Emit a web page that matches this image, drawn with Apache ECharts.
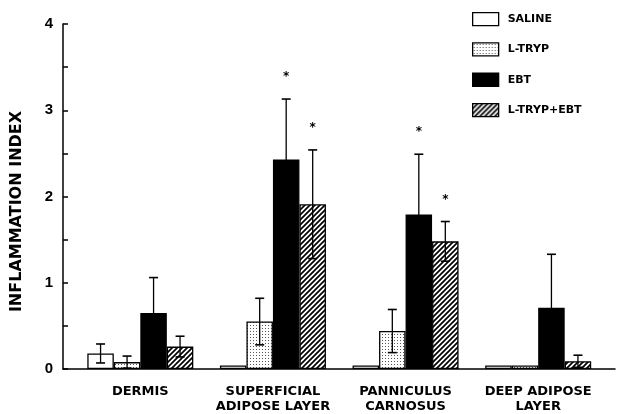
<!DOCTYPE html>
<html><head><meta charset="utf-8">
<script src="https://cdn.jsdelivr.net/npm/echarts@6/dist/echarts.min.js"></script>
<style>html,body{margin:0;padding:0;background:#fff}#c{width:617px;height:414px}</style>
</head><body><div id="c"></div>
<script>
const categories = ['DERMIS', 'SUPERFICIAL\nADIPOSE LAYER', 'PANNICULUS\nCARNOSUS', 'DEEP ADIPOSE\nLAYER'];
const seriesNames = ['SALINE', 'L-TRYP', 'EBT', 'L-TRYP+EBT'];
const saline = [0.18, 0.04, 0.04, 0.04];
const salineErr = [0.11, 0, 0, 0];
const ltryp = [0.08, 0.55, 0.44, 0.04];
const ltrypErr = [0.07, 0.27, 0.25, 0];
const ebt = [0.65, 2.43, 1.79, 0.71];
const ebtErr = [0.41, 0.70, 0.70, 0.62];
const combo = [0.26, 1.91, 1.48, 0.09];
const comboErr = [0.12, 0.63, 0.23, 0.07];
const salineStar = [0, 0, 0, 0];
const ltrypStar = [0, 0, 0, 0];
const ebtStar = [0, 1, 1, 0];
const comboStar = [0, 1, 1, 0];
const yTicks = [0, 1, 2, 3, 4];

const BAR_W = 26.5;

function makeDots() {
  const c = document.createElement('canvas'); c.width = 3; c.height = 3;
  const g = c.getContext('2d');
  g.fillStyle = '#fff'; g.fillRect(0, 0, 3, 3);
  g.fillStyle = '#555'; g.fillRect(1, 1, 1, 1);
  return c;
}
function makeHatch() {
  const s = 5;
  const c = document.createElement('canvas'); c.width = s; c.height = s;
  const g = c.getContext('2d');
  g.fillStyle = '#fff'; g.fillRect(0, 0, s, s);
  g.strokeStyle = '#000'; g.lineWidth = 1.7;
  g.beginPath();
  for (let k = -1; k <= 1; k++) {
    g.moveTo(-1, s * (k + 1) + 1);
    g.lineTo(s + 1, s * k - 1);
  }
  g.stroke();
  return c;
}

const fills = ['#fff', { image: makeDots(), repeat: 'repeat' }, '#000', { image: makeHatch(), repeat: 'repeat' }];
const values = [saline, ltryp, ebt, combo];
const errs = [salineErr, ltrypErr, ebtErr, comboErr];
const stars = [salineStar, ltrypStar, ebtStar, comboStar];

function errRender(k) {
  return function (params, api) {
    const ci = api.value(0), v = api.value(1), e = api.value(2), st = api.value(3);
    const c = api.coord([ci, v]);
    const x = c[0] + (k - 1.5) * BAR_W;
    const yt = api.coord([ci, v + e])[1];
    const yb = api.coord([ci, Math.max(v - e, 0)])[1];
    const cap = 4.5;
    const ch = [];
    if (e > 0) {
      ch.push({ type: 'line', shape: { x1: x, y1: yt, x2: x, y2: yb }, style: { stroke: '#000', lineWidth: 1.3 } });
      ch.push({ type: 'line', shape: { x1: x - cap, y1: yt, x2: x + cap, y2: yt }, style: { stroke: '#000', lineWidth: 1.6 } });
      ch.push({ type: 'line', shape: { x1: x - cap, y1: yb, x2: x + cap, y2: yb }, style: { stroke: '#000', lineWidth: 1.6 } });
    }
    if (st) {
      ch.push({ type: 'text', x: x, y: yt - 22, style: { text: '*', fontFamily: 'DejaVu Sans', fontWeight: 'bold', fontSize: 12, fill: '#000', align: 'center', verticalAlign: 'middle' } });
    }
    return { type: 'group', children: ch };
  };
}

const series = [];
seriesNames.forEach((name, k) => {
  series.push({
    name: name, type: 'bar', xAxisIndex: 1, yAxisIndex: 1,
    barWidth: BAR_W, barGap: '0%',
    itemStyle: { color: fills[k], borderColor: '#000', borderWidth: 1.3 },
    data: values[k]
  });
});
seriesNames.forEach((name, k) => {
  series.push({
    type: 'custom', xAxisIndex: 1, yAxisIndex: 1, z: 5,
    renderItem: errRender(k),
    data: values[k].map((v, i) => [i, v, errs[k][i], stars[k][i]])
  });
});

const chart = echarts.init(document.getElementById('c'));
chart.setOption({
  animation: false,
  backgroundColor: '#fff',
  grid: [
    { left: 63, right: 2, top: 24, bottom: 45 },
    { left: 74, right: 12.5, top: 24, bottom: 45 }
  ],
  legend: {
    orient: 'vertical', left: 472, top: 12, padding: 0, itemWidth: 26, itemHeight: 13, itemGap: 16, icon: 'rect',
    data: seriesNames,
    itemStyle: { borderColor: '#000', borderWidth: 1.3 },
    textStyle: { fontFamily: 'DejaVu Sans', fontWeight: 'bold', fontSize: 11, color: '#000', padding: [0, 0, 0, 4] }
  },
  xAxis: [
    { gridIndex: 0, type: 'value', min: 0, max: 1, axisLine: { show: true, onZero: false, lineStyle: { color: '#000', width: 1.5 } }, axisTick: { show: false }, axisLabel: { show: false }, splitLine: { show: false } },
    { gridIndex: 1, type: 'category', data: categories, axisLine: { show: false }, axisTick: { show: false },
      axisLabel: { interval: 0, margin: 15, fontFamily: 'DejaVu Sans', fontWeight: 'bold', fontSize: 13, color: '#000', lineHeight: 15 } }
  ],
  yAxis: [
    { gridIndex: 0, type: 'value', min: yTicks[0], max: yTicks[yTicks.length - 1], interval: 1,
      axisLine: { show: true, lineStyle: { color: '#000', width: 1.5 } },
      axisTick: { show: true, inside: true, length: 5, lineStyle: { color: '#000', width: 1.5 } },
      minorTick: { show: true, splitNumber: 2, length: 5, lineStyle: { color: '#000', width: 1.5 } },
      splitLine: { show: false },
      axisLabel: { margin: 10, fontFamily: 'Liberation Sans', fontWeight: 'bold', fontSize: 15, color: '#000' } },
    { gridIndex: 1, type: 'value', min: 0, max: 4, show: false }
  ],
  graphic: [
    { type: 'text', x: 17, y: 211.5, rotation: Math.PI / 2,
      style: { text: 'INFLAMMATION INDEX', fontFamily: 'DejaVu Sans', fontWeight: 'bold', fontSize: 16, fill: '#000', align: 'center', verticalAlign: 'middle' } }
  ],
  series: series
});
</script></body></html>
